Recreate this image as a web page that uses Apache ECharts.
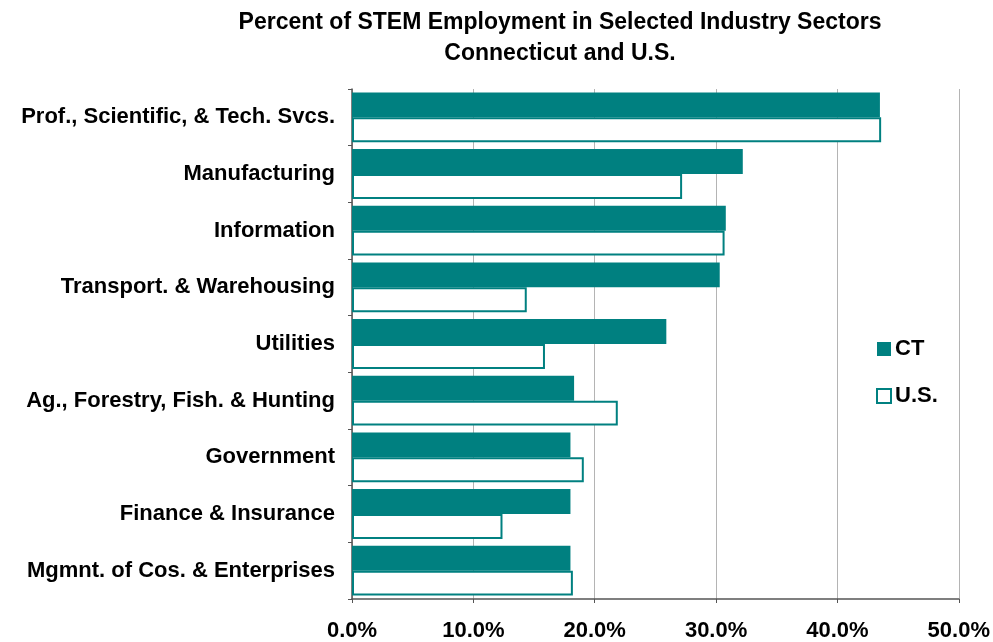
<!DOCTYPE html>
<html><head><meta charset="utf-8">
<script src="https://cdn.jsdelivr.net/npm/echarts@6/dist/echarts.min.js"></script>
<style>html,body{margin:0;padding:0;background:#fff}#c{width:993px;height:642px}</style>
</head><body><div id="c"></div>
<script>
var categories = ["Prof., Scientific, & Tech. Svcs.","Manufacturing","Information","Transport. & Warehousing","Utilities","Ag., Forestry, Fish. & Hunting","Government","Finance & Insurance","Mgmnt. of Cos. & Enterprises"];
var ctValues = [43.5, 32.2, 30.8, 30.3, 25.9, 18.3, 18.0, 18.0, 18.0];
var usValues = [43.6, 27.2, 30.7, 14.4, 15.9, 21.9, 19.1, 12.4, 18.2];
var xTicks = [0, 10, 20, 30, 40, 50];
var teal = '#008080';
var font = '"Liberation Sans", Arial, sans-serif';
var chart = echarts.init(document.getElementById('c'));
chart.setOption({
  animation: false,
  title: {
    text: 'Percent of STEM Employment in Selected Industry Sectors\nConnecticut and U.S.',
    left: 555, textAlign: 'center', top: 2,
    textStyle: {fontFamily: font, fontSize: 23, fontWeight: 'bold', color: '#000', lineHeight: 31}
  },
  legend: {
    orient: 'vertical', left: 871, top: 333, itemWidth: 14, itemHeight: 14, itemGap: 25,
    icon: 'rect',
    textStyle: {fontFamily: font, fontSize: 22, fontWeight: 'bold', color: '#000', padding: [0,0,0,-1]},
    data: ['CT', 'U.S.']
  },
  grid: {left: 352, right: 34, top: 89, bottom: 43, containLabel: false},
  xAxis: {
    type: 'value', min: xTicks[0], max: xTicks[xTicks.length-1], interval: 10,
    axisLine: {show: true, lineStyle: {color: '#555', width: 1.5}},
    axisTick: {show: true, length: 4, lineStyle: {color: '#555'}},
    splitLine: {show: true, lineStyle: {color: '#b4b4b4', width: 1}},
    axisLabel: {fontFamily: font, fontSize: 22, fontWeight: 'bold', color: '#000', margin: 21,
      formatter: function(v){ return v.toFixed(1) + '%'; }}
  },
  yAxis: {
    type: 'category', data: categories, inverse: true,
    axisLine: {show: true, lineStyle: {color: '#555', width: 1.5}},
    axisTick: {show: true, length: 4, lineStyle: {color: '#555'}},
    axisLabel: {fontFamily: font, fontSize: 22, fontWeight: 'bold', color: '#000', margin: 17}
  },
  series: [
    {name: 'CT', type: 'bar', data: ctValues, barGap: '0%', barCategoryGap: '12%',
     itemStyle: {color: teal}},
    {name: 'U.S.', type: 'bar', data: usValues, barGap: '0%', barCategoryGap: '12%',
     itemStyle: {color: '#fff', borderColor: teal, borderWidth: 2}}
  ]
});
</script></body></html>
